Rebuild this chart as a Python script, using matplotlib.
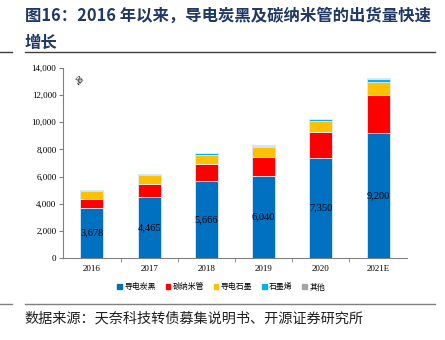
import numpy as np
import matplotlib
matplotlib.use('Agg')
import matplotlib.pyplot as plt
from matplotlib.lines import Line2D
from matplotlib.patches import Patch

plt.rcParams['font.family'] = ['Noto Sans CJK SC', 'DejaVu Sans']

years = ['2016', '2017', '2018', '2019', '2020', '2021E']
carbon_black = [3678, 4465, 5666, 6040, 7350, 9200]
cnt = [700, 1000, 1280, 1420, 1950, 2820]
graphite = [565, 620, 660, 710, 790, 950]
graphene = [70, 70, 110, 100, 120, 170]
other = [20, 20, 25, 25, 30, 75]

series = [carbon_black, cnt, graphite, graphene, other]
names = ['导电炭黑', '碳纳米管', '导电石墨', '石墨烯', '其他']
colors = ['#0070C0', '#FF0000', '#FFC000', '#00B0F0', '#A5A5A5']

fig = plt.figure(figsize=(4.45, 3.4), dpi=100)
ax = fig.add_axes([0.1423, 0.2403, 0.7717, 0.5607])

x = np.arange(len(years))
bottom = np.zeros(len(years))
for vals, c in zip(series, colors):
    ax.bar(x, vals, 0.4, bottom=bottom, color=c, edgecolor='#DDEBF7', linewidth=0.6)
    bottom += np.array(vals)

for xi, v in zip(x, carbon_black):
    ax.text(xi, v / 2, f'{v:,}', ha='center', va='center', fontsize=7.5,
            family='Liberation Serif', color='black')

ax.set_xlim(-0.5, 5.5)
ax.set_ylim(0, 14000)
ax.set_yticks(range(0, 14001, 2000))
ax.set_yticklabels([f'{v:,}' for v in range(0, 14001, 2000)],
                   family='Liberation Serif', fontsize=6.5)
ax.set_xticks(x)
ax.set_xticklabels(years, family='Liberation Serif', fontsize=6.5)
ax.set_xticks(np.arange(0.5, 5.5, 1), minor=True)
ax.tick_params(axis='x', which='major', length=0, pad=5)
ax.tick_params(axis='x', which='minor', length=3, color='#808080')
ax.tick_params(axis='y', length=3, color='#808080', pad=2)
for s in ['top', 'right']:
    ax.spines[s].set_visible(False)
ax.spines['left'].set_color('#808080')
ax.spines['bottom'].set_color('#808080')

ax.text(0.04, 0.93, '吨', transform=ax.transAxes, fontsize=5.5, rotation=-45,
        ha='center', va='center')

handles = [Patch(color=c, label=n) for c, n in zip(colors, names)]
fig.legend(handles=handles, loc='center', bbox_to_anchor=(0.497, 0.156), ncol=5,
           frameon=False, fontsize=5.7, handlelength=0.6, handleheight=0.6,
           handletextpad=0.3, columnspacing=1.2)

fig.text(0.056, 0.953, '图16：2016 年以来，导电炭黑及碳纳米管的出货量快速', fontsize=11.8,
         fontweight='bold', color='#1F3864', va='center', ha='left')
fig.text(0.056, 0.875, '增长', fontsize=11.8, fontweight='bold', color='#1F3864',
         va='center', ha='left')
fig.add_artist(Line2D([0.056, 0.978], [0.847, 0.847], color='#404040', lw=1.0))
fig.add_artist(Line2D([0.0, 0.027], [0.847, 0.847], color='#404040', lw=1.0))
fig.add_artist(Line2D([0.056, 0.978], [0.107, 0.107], color='#808080', lw=1.0))
fig.add_artist(Line2D([0.0, 0.027], [0.107, 0.107], color='#808080', lw=1.0))
fig.text(0.056, 0.062, '数据来源：天奈科技转债募集说明书、开源证券研究所', fontsize=10.2,
         color='#202020', va='center', ha='left')

fig.savefig('out.png', dpi=100)
